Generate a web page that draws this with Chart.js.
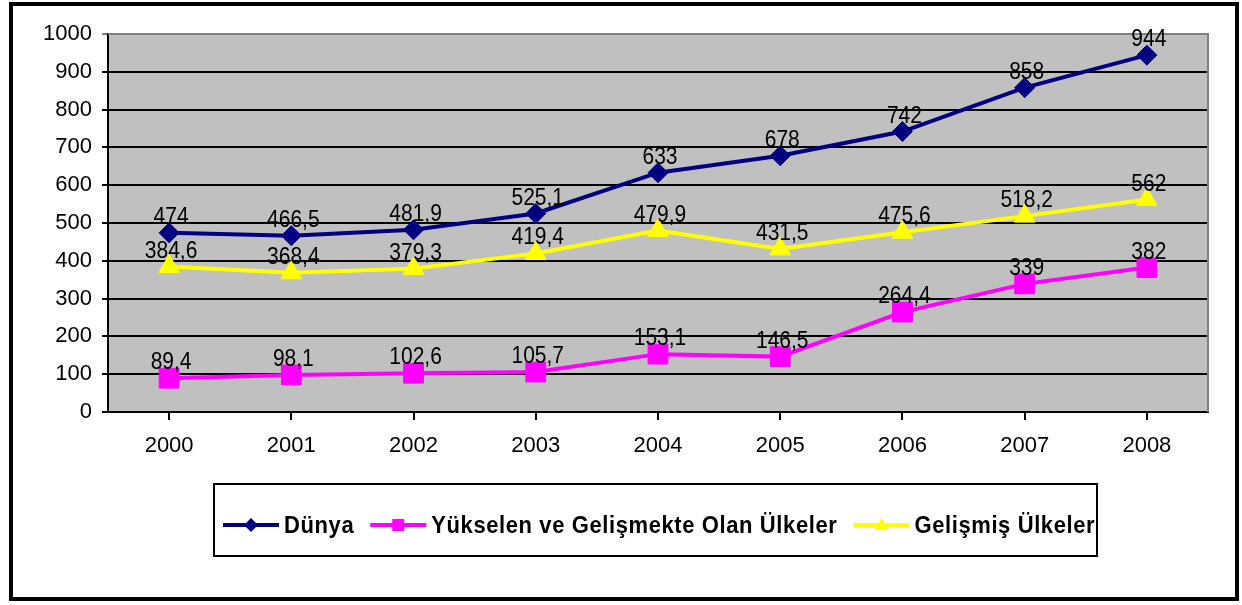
<!DOCTYPE html>
<html>
<head>
<meta charset="utf-8">
<script src="https://cdn.jsdelivr.net/npm/chart.js@4.4.1/dist/chart.umd.min.js"></script>
<style>
  html, body { margin: 0; padding: 0; background: #ffffff; }
  #wrap { width: 1242px; height: 605px; }
</style>
</head>
<body>
<div id="wrap"><canvas id="lineChart" width="1242" height="605"></canvas></div>
<script>
// Yıllar (x ekseni)
const years = ['2000', '2001', '2002', '2003', '2004', '2005', '2006', '2007', '2008'];

// Seri değerleri
const dunya = [474, 466.5, 481.9, 525.1, 633, 678, 742, 858, 944];
const yukselen = [89.4, 98.1, 102.6, 105.7, 153.1, 146.5, 264.4, 339, 382];
const gelismis = [384.6, 368.4, 379.3, 419.4, 479.9, 431.5, 475.6, 518.2, 562];

// Seri adları
const seriesNames = ['Dünya', 'Yükselen ve Gelişmekte Olan Ülkeler', 'Gelişmiş Ülkeler'];

// Y ekseni
const yMin = 0;
const yMax = 1000;
const yStep = 100;

const FONT = "'Liberation Sans', Arial, sans-serif";

// Metni dikeyde biraz uzatarak yaz (orijinaldeki gibi)
function tallText(ctx, txt, x, y, sy) {
    ctx.save();
    ctx.translate(x, y);
    ctx.scale(1, sy);
    ctx.fillText(txt, 0, 0);
    ctx.restore();
}

// Arka plan, çerçeveler, veri etiketleri ve gösterge
const decorPlugin = {
    id: 'decor',
    beforeDraw(chart) {
        const { ctx, chartArea: a } = chart;
        ctx.save();
        ctx.fillStyle = '#ffffff';
        ctx.fillRect(0, 0, chart.width, chart.height);
        ctx.fillStyle = '#c0c0c0';
        ctx.fillRect(a.left, a.top, a.right - a.left, a.bottom - a.top);
        ctx.restore();
    },
    afterDatasetsDraw(chart) {
        const { ctx, chartArea: a } = chart;
        ctx.save();
        // gri çerçeve (üst ve sağ)
        ctx.strokeStyle = '#808080';
        ctx.lineWidth = 2;
        ctx.beginPath();
        ctx.moveTo(a.left, a.top);
        ctx.lineTo(a.right, a.top);
        ctx.lineTo(a.right, a.bottom);
        ctx.stroke();

        // veri etiketleri
        ctx.fillStyle = '#000000';
        ctx.font = '21px ' + FONT;
        ctx.textAlign = 'center';
        ctx.textBaseline = 'alphabetic';
        chart.data.datasets.forEach((ds, i) => {
            chart.getDatasetMeta(i).data.forEach((pt, j) => {
                const txt = String(ds.data[j]).replace('.', ',');
                tallText(ctx, txt, pt.x + 2, pt.y - 9, 1.12);
            });
        });
        ctx.restore();
    },
    afterDraw(chart) {
        const { ctx } = chart;
        ctx.save();
        // dış çerçeve
        ctx.strokeStyle = '#000000';
        ctx.lineWidth = 4;
        ctx.strokeRect(11, 4, 1226, 595);

        // gösterge kutusu
        ctx.lineWidth = 2;
        ctx.strokeRect(214, 484, 883, 72);

        ctx.font = 'bold 22px ' + FONT;
        ctx.textBaseline = 'middle';
        ctx.textAlign = 'left';
        const lineLen = 56, gapText = 5, gapItem = 16, cy = 525, spacing = 0.6;
        let x = 223;
        chart.data.datasets.forEach(ds => {
            ctx.letterSpacing = '0px';
            const tw = ctx.measureText(ds.label).width + spacing * ds.label.length;
            ctx.strokeStyle = ds.borderColor;
            ctx.lineWidth = 4;
            ctx.beginPath();
            ctx.moveTo(x, cy);
            ctx.lineTo(x + lineLen, cy);
            ctx.stroke();
            const mx = x + lineLen / 2;
            ctx.fillStyle = ds.borderColor;
            ctx.beginPath();
            if (ds.pointStyle === 'rectRot') {
                ctx.moveTo(mx, cy - 7); ctx.lineTo(mx + 7, cy);
                ctx.lineTo(mx, cy + 7); ctx.lineTo(mx - 7, cy);
            } else if (ds.pointStyle === 'rect') {
                ctx.rect(mx - 6, cy - 6, 12, 12);
            } else {
                ctx.moveTo(mx, cy - 7); ctx.lineTo(mx + 7, cy + 5);
                ctx.lineTo(mx - 7, cy + 5);
            }
            ctx.closePath();
            ctx.fill();
            ctx.fillStyle = '#000000';
            ctx.letterSpacing = spacing + 'px';
            tallText(ctx, ds.label, x + lineLen + gapText, cy + 1, 1.12);
            x += lineLen + gapText + tw + gapItem;
        });
        ctx.restore();
    }
};

const ctx = document.getElementById('lineChart').getContext('2d');
new Chart(ctx, {
    type: 'line',
    data: {
        labels: years,
        datasets: [{
            label: seriesNames[0],
            data: dunya,
            borderColor: '#000080',
            backgroundColor: '#000080',
            pointStyle: 'rectRot',
            pointRadius: 10,
            pointBorderWidth: 1,
            borderWidth: 4,
            tension: 0
        }, {
            label: seriesNames[1],
            data: yukselen,
            borderColor: '#ff00ff',
            backgroundColor: '#ff00ff',
            pointStyle: 'rect',
            pointRadius: 14,
            pointBorderWidth: 1,
            borderWidth: 4,
            tension: 0
        }, {
            label: seriesNames[2],
            data: gelismis,
            borderColor: '#ffff00',
            backgroundColor: '#ffff00',
            pointStyle: 'triangle',
            pointRadius: 12,
            pointBorderWidth: 1,
            borderWidth: 4,
            tension: 0
        }]
    },
    options: {
        responsive: false,
        animation: false,
        devicePixelRatio: 1,
        clip: false,
        layout: {
            padding: { left: 20, right: 34, top: 34, bottom: 147 }
        },
        scales: {
            x: {
                offset: true,
                afterFit: s => { s.height = 46; },
                grid: {
                    drawOnChartArea: false,
                    drawTicks: true,
                    tickLength: 8,
                    color: '#000000',
                    lineWidth: 2
                },
                border: { display: true, color: '#000000', width: 2 },
                ticks: {
                    color: '#000000',
                    font: { family: FONT, size: 22 },
                    padding: 13,
                    maxRotation: 0
                }
            },
            y: {
                min: yMin,
                max: yMax,
                afterFit: s => { s.width = 88; },
                grid: {
                    color: c => (c.tick && c.tick.value === yMax ? '#808080' : '#000000'),
                    lineWidth: 2,
                    tickLength: 6,
                    drawTicks: true
                },
                border: { display: true, color: '#000000', width: 2 },
                ticks: {
                    stepSize: yStep,
                    color: '#000000',
                    font: { family: FONT, size: 22 },
                    padding: 10,
                    callback: v => String(v)
                }
            }
        },
        plugins: {
            legend: { display: false },
            tooltip: { enabled: false }
        }
    },
    plugins: [decorPlugin]
});
</script>
</body>
</html>
